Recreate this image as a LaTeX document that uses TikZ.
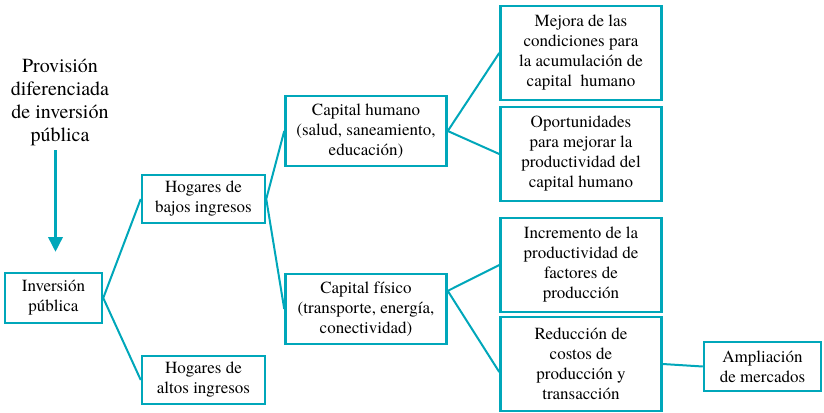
\documentclass[tikz,border=0pt]{standalone}
\usepackage{fontspec}
\setmainfont{texgyretermes}[Extension=.otf, UprightFont=*-regular,
  BoldFont=*-bold, ItalicFont=*-italic, BoldItalicFont=*-bolditalic]
\usetikzlibrary{arrows.meta,calc}
\definecolor{cepalteal}{RGB}{0,167,186}

\tikzset{
  box/.style={draw=cepalteal, line width=2.5pt, align=center, inner sep=2pt,
    font=\fontsize{17}{20}\selectfont},
  link/.style={draw=cepalteal, line width=2pt},
}

\begin{document}
\begin{tikzpicture}[x=1pt,y=-1pt]
    \useasboundingbox (0,0) rectangle (824,412);

    % Left column
    \node[align=center, font=\fontsize{20}{23}\selectfont] (prov) at (60,102)
        {Provisión\\diferenciada\\de inversión\\pública};
    \coordinate (tail) at (55.5,150);
    \coordinate (tip) at (55.5,252);
    \node[box, minimum width=97pt, minimum height=50pt] (inv) at (53.5,298)
        {Inversión\\pública};

    % Households
    \node[box, minimum width=123pt, minimum height=48pt] (bajos) at (203.5,199)
        {Hogares de\\bajos ingresos};
    \node[box, minimum width=123pt, minimum height=48pt] (altos) at (203.5,380)
        {Hogares de\\altos ingresos};

    % Capital
    \node[box, minimum width=161pt, minimum height=70pt] (hum) at (366,131)
        {Capital humano\\(salud, saneamiento,\\educación)};
    \node[box, minimum width=161pt, minimum height=70pt] (fis) at (366,309)
        {Capital físico\\(transporte, energía,\\conectividad)};

    % Effects
    \node[box, minimum width=161pt, minimum height=94pt] (mejora) at (581,53)
        {Mejora de las\\condiciones para\\la acumulación de\\capital~~humano};
    \node[box, minimum width=161pt, minimum height=94pt] (oport) at (581,154)
        {Oportunidades\\para mejorar la\\productividad del\\capital humano};
    \node[box, minimum width=161pt, minimum height=94pt] (incr) at (581,265)
        {Incremento de la\\productividad de\\factores de\\producción};
    \node[box, minimum width=161pt, minimum height=94pt] (reduc) at (581,364)
        {Reducción de\\costos de\\producción y\\transacción};
    \node[box, minimum width=117pt, minimum height=49pt] (ampl) at (762.5,366.5)
        {Ampliación\\de mercados};

    % Arrow
    \draw[cepalteal, line width=3.5pt, -{Triangle[width=14pt,length=15pt]}] (tail) -- (tip);

    % Connectors
    \coordinate (fisout) at ($(fis.north east)!0.25!(fis.south east)$);
    \draw[link] (bajos.west) -- (inv.east) -- (altos.west);
    \draw[link] (hum.west) -- (bajos.east) -- (fis.west);
    \draw[link] (mejora.west) -- (hum.east) -- (oport.west);
    \draw[link] (incr.west) -- (fisout) -- ([yshift=-8pt]reduc.west);
    \draw[link] (reduc.east) -- (ampl.west);
\end{tikzpicture}
\end{document}
